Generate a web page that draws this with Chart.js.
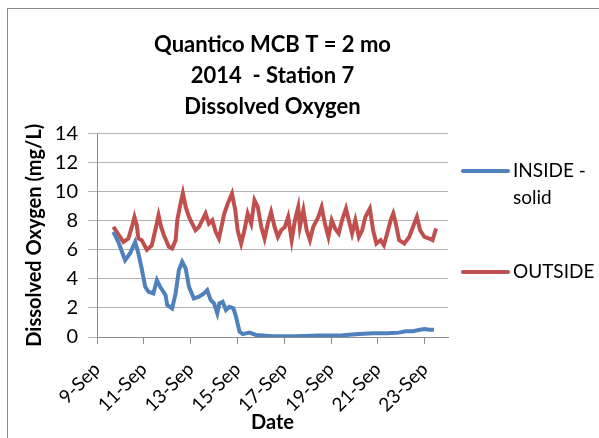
<!DOCTYPE html>
<html>
<head>
<meta charset="utf-8">
<script src="https://cdn.jsdelivr.net/npm/chart.js@4"></script>
<style>
  html, body { margin: 0; padding: 0; background: #fff; }
  #wrap { width: 599px; height: 438px; }
</style>
</head>
<body>
<div id="wrap"><canvas id="doChart" width="599" height="438"></canvas></div>
<script>
// Day of September (fractional) and dissolved oxygen readings (mg/L)
const insideDays = [9.70, 9.91, 10.20, 10.41, 10.63, 10.77, 10.91, 11.06, 11.20, 11.41, 11.56, 11.70, 11.93, 12.00,
  12.21, 12.36, 12.50, 12.64, 12.79, 12.93, 13.14, 13.36, 13.57, 13.71, 13.86, 14.00, 14.14, 14.23, 14.37, 14.51,
  14.66, 14.83, 14.94, 15.09, 15.23, 15.51, 15.80, 16.50, 17.50, 18.50, 19.50, 20.20, 20.80, 21.40, 21.90, 22.20,
  22.50, 22.80, 23.00, 23.20, 23.40];
const insideDO = [7.23, 6.54, 5.28, 5.74, 6.54, 5.74, 4.71, 3.45, 3.11, 3.00, 3.91, 3.45, 2.88, 2.20,
  1.97, 3.00, 4.60, 5.17, 4.71, 3.45, 2.65, 2.77, 3.00, 3.22, 2.54, 2.31, 1.63, 2.31, 2.42, 1.85,
  2.08, 1.97, 1.40, 0.37, 0.20, 0.30, 0.14, 0.05, 0.05, 0.10, 0.12, 0.20, 0.25, 0.25, 0.30, 0.40,
  0.40, 0.50, 0.55, 0.50, 0.50];

const outsideDays = [9.70, 9.84, 10.13, 10.34, 10.49, 10.60, 10.70, 10.77, 10.91, 11.13, 11.34, 11.49, 11.63, 11.74,
  11.86, 12.07, 12.21, 12.36, 12.43, 12.57, 12.67, 12.79, 12.93, 13.07, 13.21, 13.36, 13.50, 13.64, 13.78, 13.93,
  14.07, 14.21, 14.32, 14.44, 14.59, 14.77, 14.91, 15.01, 15.16, 15.30, 15.44, 15.59, 15.73, 15.87, 16.02, 16.16,
  16.30, 16.44, 16.59, 16.73, 16.87, 17.03, 17.17, 17.32, 17.46, 17.60, 17.67, 17.82, 17.96, 18.10, 18.24, 18.46,
  18.60, 18.74, 18.89, 19.03, 19.18, 19.33, 19.47, 19.64, 19.76, 19.90, 20.04, 20.19, 20.33, 20.47, 20.66, 20.80,
  20.94, 21.12, 21.26, 21.40, 21.55, 21.66, 21.77, 21.91, 22.13, 22.34, 22.56, 22.67, 22.81, 22.99, 23.20, 23.34, 23.49];
const outsideDO = [7.57, 7.23, 6.54, 6.77, 7.57, 8.26, 7.69, 6.77, 6.66, 6.00, 6.30, 7.34, 8.37, 7.57,
  7.00, 6.20, 6.09, 6.66, 8.03, 9.18, 9.90, 8.94, 8.26, 7.80, 7.34, 7.57, 8.03, 8.49, 7.80, 8.03,
  7.23, 6.77, 7.60, 8.49, 9.18, 9.86, 8.72, 7.34, 6.43, 7.34, 8.49, 7.80, 9.40, 8.94, 7.57, 6.77,
  7.80, 8.60, 7.57, 6.88, 7.34, 7.57, 8.26, 6.66, 8.03, 8.94, 7.57, 8.72, 7.34, 6.66, 7.57, 8.26,
  8.94, 7.80, 6.88, 8.03, 7.45, 7.12, 8.03, 8.83, 8.03, 7.12, 8.03, 6.88, 7.34, 8.26, 8.83, 7.34,
  6.43, 6.66, 6.31, 7.12, 8.03, 8.49, 7.80, 6.66, 6.43, 6.88, 7.80, 8.26, 7.34, 6.88, 6.77, 6.66, 7.46];

const xTickDays = [9, 11, 13, 15, 17, 19, 21, 23];
const seriesNames = ['INSIDE - solid', 'OUTSIDE'];
const seriesColors = ['#4F81BD', '#C0504D'];

const FONT = 'Lato, "Open Sans", sans-serif';
const TEXT = '#000000';

function toPoints(days, vals) {
  return days.map((d, i) => ({ x: d, y: vals[i] }));
}

// white background + grey outer frame like the spreadsheet chart
const framePlugin = {
  id: 'frame',
  beforeDraw(chart) {
    const c = chart.ctx;
    c.save();
    c.fillStyle = '#fff';
    c.fillRect(0, 0, chart.width, chart.height);
    c.strokeStyle = '#8c8c8c';
    c.lineWidth = 1;
    c.strokeRect(7.5, 8.5, chart.width + 10, chart.height + 10);
    c.restore();
  }
};

// legend on the right, drawn by hand so the spacing matches
const sideLegend = {
  id: 'sideLegend',
  afterDraw(chart) {
    const c = chart.ctx;
    const rows = [171, 272];
    c.save();
    c.font = '19px ' + FONT;
    c.textBaseline = 'middle';
    c.fillStyle = TEXT;
    chart.data.datasets.forEach((ds, i) => {
      const y = rows[i];
      c.strokeStyle = ds.borderColor;
      c.lineWidth = 4;
      c.lineCap = 'round';
      c.beginPath();
      c.moveTo(463, y);
      c.lineTo(508, y);
      c.stroke();
      // wrap label to two lines when it is long
      const words = ds.label.split(' ');
      const lines = [];
      let cur = '';
      words.forEach(w => {
        const test = cur ? cur + ' ' + w : w;
        if (c.measureText(test).width > 80 && cur) { lines.push(cur); cur = w; } else { cur = test; }
      });
      lines.push(cur);
      lines.forEach((ln, j) => c.fillText(ln, 513, y + j * 27));
    });
    c.restore();
  }
};

const ctx = document.getElementById('doChart').getContext('2d');

const chart = new Chart(ctx, {
  type: 'line',
  data: {
    datasets: [
      {
        label: seriesNames[0],
        data: toPoints(insideDays, insideDO),
        borderColor: seriesColors[0],
        borderWidth: 4,
        pointRadius: 0,
        tension: 0
      },
      {
        label: seriesNames[1],
        data: toPoints(outsideDays, outsideDO),
        borderColor: seriesColors[1],
        borderWidth: 4,
        pointRadius: 0,
        tension: 0
      }
    ]
  },
  options: {
    responsive: false,
    animation: false,
    layout: {
      padding: { left: 0, right: 151, top: 0, bottom: 0 }
    },
    scales: {
      x: {
        type: 'linear',
        min: 9,
        max: 24,
        afterBuildTicks: scale => {
          scale.ticks = xTickDays.map(v => ({ value: v }));
        },
        afterFit: scale => { scale.height = 101; },
        ticks: {
          autoSkip: false,
          maxRotation: 45,
          minRotation: 45,
          padding: 14,
          color: TEXT,
          font: { family: FONT, size: 19 },
          callback: v => v + '-Sep'
        },
        grid: {
          drawOnChartArea: false,
          color: '#8c8c8c',
          tickLength: 7
        },
        border: { color: '#8c8c8c' },
        title: {
          display: true,
          text: 'Date',
          color: TEXT,
          font: { family: FONT, size: 20, weight: 'bold' },
          padding: { top: 3, bottom: 3 }
        }
      },
      y: {
        min: 0,
        max: 14,
        afterFit: scale => { scale.width = 97; },
        ticks: {
          stepSize: 2,
          padding: 10,
          color: TEXT,
          font: { family: FONT, size: 20 }
        },
        grid: {
          color: '#b4b4b4',
          tickLength: 9
        },
        border: { color: '#8c8c8c' },
        title: {
          display: true,
          text: 'Dissolved Oxygen (mg/L)',
          color: TEXT,
          font: { family: FONT, size: 20, weight: 'bold' },
          padding: { top: 23, bottom: 4 }
        }
      }
    },
    plugins: {
      legend: { display: false },
      tooltip: { enabled: false },
      title: {
        display: true,
        fullSize: false,
        text: ['Quantico MCB T = 2 mo', '2014  - Station 7', 'Dissolved Oxygen'],
        color: TEXT,
        font: { family: FONT, size: 22, weight: 'bold', lineHeight: 1.4 },
        padding: { top: 30, bottom: 11 }
      }
    }
  },
  plugins: [framePlugin, sideLegend]
});
</script>
</body>
</html>
